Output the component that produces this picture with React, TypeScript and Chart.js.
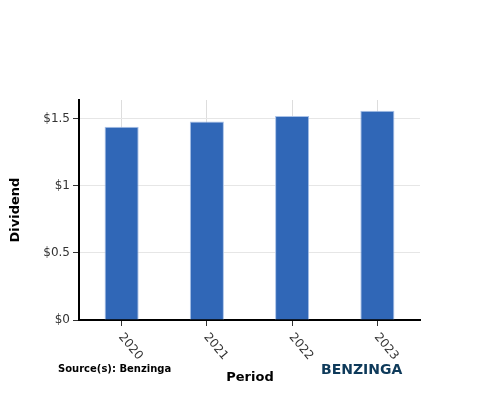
import { useEffect, useRef } from 'react'
import { Chart, registerables } from 'chart.js'

Chart.register(...registerables)

const periods = ['2020', '2021', '2022', '2023']
const dividends = [1.44, 1.48, 1.52, 1.56]
const yTicks = [0, 0.5, 1, 1.5]

const FONT = '"DejaVu Sans", sans-serif'

const textPlugin = {
  id: 'benzingaText',
  afterDraw(chart: any) {
    const ctx = chart.ctx
    const x = chart.scales.x
    ctx.save()
    // rotated period labels
    ctx.fillStyle = '#333'
    ctx.font = `12px ${FONT}`
    ctx.textAlign = 'left'
    ctx.textBaseline = 'middle'
    periods.forEach((p, i) => {
      const px = x.getPixelForTick(i)
      ctx.save()
      ctx.translate(px - 1, 335)
      ctx.rotate((50 * Math.PI) / 180)
      ctx.fillText(p, 0, 0)
      ctx.restore()
    })
    ctx.fillStyle = '#000'
    ctx.font = `bold 13px ${FONT}`
    ctx.textAlign = 'center'
    ctx.fillText('Period', 250, 378)
    ctx.save()
    ctx.translate(16, 210)
    ctx.rotate(-Math.PI / 2)
    ctx.fillText('Dividend', 0, 0)
    ctx.restore()
    ctx.textAlign = 'left'
    ctx.font = `bold 10px ${FONT}`
    ctx.fillText('Source(s): Benzinga', 58, 369)
    ctx.fillStyle = '#0e3a5a'
    ctx.font = `bold 14px ${FONT}`
    ctx.fillText('BENZINGA', 321, 370)
    ctx.restore()
  }
}

export default function App() {
  const ref = useRef<HTMLCanvasElement>(null)
  useEffect(() => {
    if (!ref.current) return
    const chart = new Chart(ref.current, {
      type: 'bar',
      data: {
        labels: periods,
        datasets: [{
          label: 'Dividend',
          data: dividends,
          backgroundColor: '#3067b7',
          borderColor: '#a9c2e8',
          borderWidth: 1,
          barPercentage: 0.4,
          categoryPercentage: 1
        }]
      },
      options: {
        animation: false,
        responsive: false,
        layout: { padding: { top: 100, right: 80, left: 0, bottom: 0 } },
        plugins: { legend: { display: false }, tooltip: { enabled: false } },
        scales: {
          x: {
            afterFit: (s: any) => { s.height = 80 },
            grid: { offset: false, color: '#dddddd', tickColor: '#333', tickLength: 6 },
            border: { color: '#000', width: 2 },
            ticks: { display: false }
          },
          y: {
            min: 0,
            max: 1.64,
            afterFit: (s: any) => { s.width = 79 },
            afterBuildTicks: (s: any) => { s.ticks = yTicks.map(v => ({ value: v })) },
            grid: { color: '#e6e6e6', tickColor: '#333', tickLength: 6 },
            border: { color: '#000', width: 2 },
            ticks: {
              padding: 3,
              color: '#333',
              font: { family: FONT, size: 12 },
              callback: (v: any) => '$' + v
            }
          }
        }
      },
      plugins: [textPlugin]
    })
    return () => chart.destroy()
  }, [])
  return (
    <div style={{ position: 'fixed', left: 0, top: 0, width: 500, height: 400, background: '#fff' }}>
      <canvas ref={ref} width={500} height={400} />
    </div>
  )
}
